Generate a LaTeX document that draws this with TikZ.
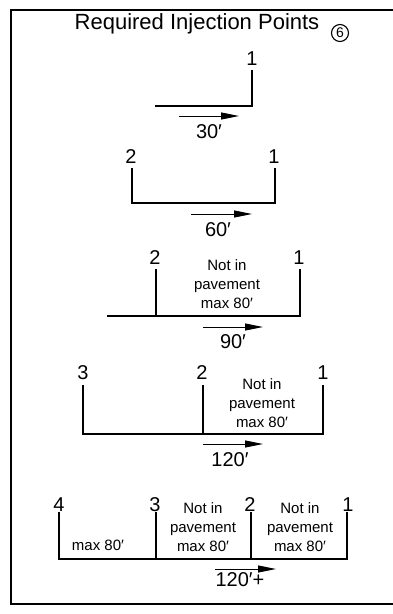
\documentclass[tikz,border=0pt]{standalone}
\usepackage{fontspec}
\setmainfont{Liberation Sans}
\usetikzlibrary{arrows.meta}
\begin{document}
\begin{tikzpicture}[x=1pt,y=-1pt,
  num/.style={font=\fontsize{20}{20}\selectfont, inner sep=0pt},
  note/.style={font=\fontsize{15}{19}\selectfont, align=center, inner sep=0pt},
  wire/.style={line width=1.3pt},
  dir/.style={line width=0.9pt, -{Triangle[length=18pt,width=7pt]}},
  frame/.style={line width=2pt}]
\useasboundingbox (0,0) rectangle (393,614);
\coordinate (ftr) at (393,10);
\coordinate (ftl) at (11,10);
\coordinate (fbl) at (11,604);
\coordinate (fbr) at (393,604);
\draw[frame] (ftr) -- (ftl) -- (fbl) -- (fbr);

\node[font=\fontsize{22}{22}\selectfont, inner sep=0pt] (title) at (197,24) {Required Injection Points};
\node[circle, draw, line width=1.1pt, inner sep=0pt, minimum size=17pt, font=\fontsize{14}{14}\selectfont] (c6) at (340,33) {6};

% 30'
\node[num] (a1) at (252,59) {1};
\coordinate (a1t) at (252,70);
\coordinate (a1b) at (252,106);
\coordinate (a0) at (155,106);
\draw[wire] (a1t) -- (a1b) -- (a0);
\coordinate (aas) at (179,116); \coordinate (aae) at (239,116);
\draw[dir] (aas) -- (aae);
\node[num] (ad) at (209,132) {30′};

% 60'
\node[num] (b2) at (131,157) {2};
\node[num] (b1) at (274,157) {1};
\coordinate (b2t) at (132,168); \coordinate (b2b) at (132,203);
\coordinate (b1t) at (275,168); \coordinate (b1b) at (275,203);
\draw[wire] (b2t) -- (b2b) -- (b1b) -- (b1t);
\coordinate (bas) at (191,214); \coordinate (bae) at (252,214);
\draw[dir] (bas) -- (bae);
\node[num] (bd) at (218,230) {60′};

% 90'
\node[num] (c2) at (155,258) {2};
\node[num] (c1) at (299,258) {1};
\node[note] (cn) at (227,284) {Not in\\pavement\\max 80′};
\coordinate (c0) at (107,316);
\coordinate (c2t) at (156,269); \coordinate (c2b) at (156,316);
\coordinate (c1t) at (300,269); \coordinate (c1b) at (300,316);
\draw[wire] (c0) -- (c1b) -- (c1t);
\draw[wire] (c2t) -- (c2b);
\coordinate (cas) at (203,327); \coordinate (cae) at (263,327);
\draw[dir] (cas) -- (cae);
\node[num] (cd) at (233,342) {90′};

% 120'
\node[num] (d3) at (83,373) {3};
\node[num] (d2) at (202,373) {2};
\node[num] (d1) at (323,373) {1};
\node[note] (dn) at (262,403) {Not in\\pavement\\max 80′};
\coordinate (d3t) at (83,385); \coordinate (d3b) at (83,434);
\coordinate (d2t) at (203,385); \coordinate (d2b) at (203,434);
\coordinate (d1t) at (323,385); \coordinate (d1b) at (323,434);
\draw[wire] (d3t) -- (d3b) -- (d1b) -- (d1t);
\draw[wire] (d2t) -- (d2b);
\coordinate (das) at (203,444); \coordinate (dae) at (263,444);
\draw[dir] (das) -- (dae);
\node[num] (dd) at (230,460) {120′};

% 120'+
\node[num] (e4) at (59,505) {4};
\node[num] (e3) at (155,505) {3};
\node[num] (e2) at (250,505) {2};
\node[num] (e1) at (348,505) {1};
\node[note] (el) at (98,545) {max 80′};
\node[note] (em) at (203,527) {Not in\\pavement\\max 80′};
\node[note] (er) at (300,527) {Not in\\pavement\\max 80′};
\coordinate (e4t) at (59,512); \coordinate (e4b) at (59,559);
\coordinate (e3t) at (156,512); \coordinate (e3b) at (156,559);
\coordinate (e2t) at (251,512); \coordinate (e2b) at (251,559);
\coordinate (e1t) at (347,512); \coordinate (e1b) at (347,559);
\draw[wire] (e4t) -- (e4b) -- (e1b) -- (e1t);
\draw[wire] (e3t) -- (e3b);
\draw[wire] (e2t) -- (e2b);
\coordinate (eas) at (215,569); \coordinate (eae) at (276,569);
\draw[dir] (eas) -- (eae);
\node[num] (ed) at (240,580) {120′+};
\end{tikzpicture}
\end{document}
